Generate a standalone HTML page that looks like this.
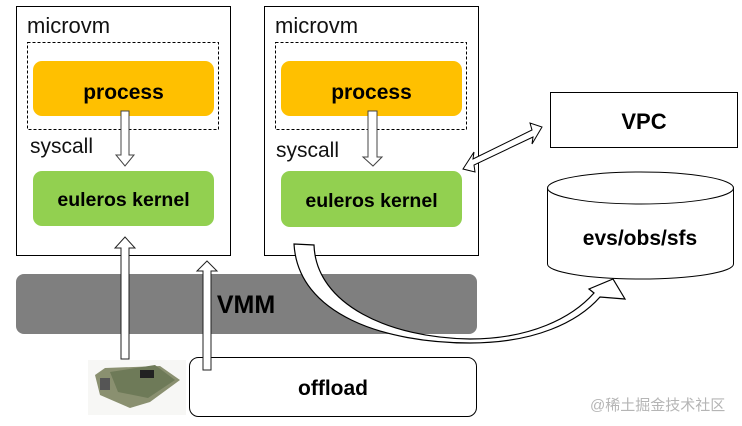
<!DOCTYPE html>
<html><head><meta charset="utf-8"><style>
html,body{margin:0;padding:0;background:#fff;}
svg{display:block;}
text{font-family:"Liberation Sans","Noto Sans CJK SC",sans-serif;}
</style></head><body>
<svg width="742" height="426" viewBox="0 0 742 426" xmlns="http://www.w3.org/2000/svg">
<rect x="16.5" y="6.5" width="214" height="249" fill="#fff" stroke="#000" stroke-width="1"/>
<text x="27" y="33" font-size="22" fill="#111">microvm</text>
<rect x="27.5" y="42.5" width="191" height="87" fill="none" stroke="#000" stroke-dasharray="3,2"/>
<rect x="33" y="61" width="181" height="55" rx="9" fill="#FFC000"/>
<text x="123.5" y="99" font-size="21" font-weight="bold" text-anchor="middle">process</text>
<text x="30" y="153" font-size="21" fill="#111">syscall</text>
<polygon points="121,111 129,111 129,155 134,155 125,166 116,155 121,155" fill="#fff" stroke="#444"/>
<rect x="33" y="171" width="181" height="55" rx="9" fill="#92D050"/>
<text x="123.5" y="206" font-size="19.5" font-weight="bold" text-anchor="middle">euleros kernel</text>

<rect x="264.5" y="6.5" width="214" height="249" fill="#fff" stroke="#000"/>
<text x="275" y="33" font-size="22" fill="#111">microvm</text>
<rect x="275.5" y="42.5" width="191" height="87" fill="none" stroke="#000" stroke-dasharray="3,2"/>
<rect x="281" y="61" width="181" height="55" rx="9" fill="#FFC000"/>
<text x="371.5" y="99" font-size="21" font-weight="bold" text-anchor="middle">process</text>
<text x="276" y="157" font-size="21" fill="#111">syscall</text>
<polygon points="368,111 377,111 377,157 382,157 373,166 363,157 368,157" fill="#fff" stroke="#444"/>
<rect x="281" y="171" width="181" height="56" rx="9" fill="#92D050"/>
<text x="371.5" y="207" font-size="19.5" font-weight="bold" text-anchor="middle">euleros kernel</text>

<rect x="16" y="274" width="461" height="60" rx="8" fill="#7f7f7f"/>
<text x="246" y="313" font-size="25" font-weight="bold" text-anchor="middle">VMM</text>

<rect x="189.5" y="357.5" width="287" height="59" rx="9" fill="#fff" stroke="#000"/>
<text x="333" y="395" font-size="21" font-weight="bold" text-anchor="middle">offload</text>

<g>
<rect x="88" y="360" width="98" height="55" fill="#f7f7f5"/>
<polygon points="95,375 105,368 160,366 180,380 150,402 130,408 100,395" fill="#8a9070"/>
<polygon points="110,372 155,365 175,380 148,398 118,392" fill="#6e7a58"/>
<rect x="140" y="370" width="14" height="8" fill="#222"/>
<rect x="100" y="378" width="10" height="12" fill="#555"/>
</g>

<polygon points="121,359 129,359 129,248 135,248 125,237 115,248 121,248" fill="#fff" stroke="#222"/>
<polygon points="203,370 211,370 211,271 217,271 207,261 197,271 203,271" fill="#fff" stroke="#222"/>

<rect x="550.5" y="92.5" width="187" height="55" fill="#fff" stroke="#000"/>
<text x="644" y="129" font-size="22" font-weight="bold" text-anchor="middle">VPC</text>
<polygon points="463,169 474,152 473,159 532,130 530,123 542,127 532,144 533,137 474,165 475,172" fill="#fff" stroke="#000"/>

<path d="M547.5,188 L547.5,264 A93,15 0 0 0 733.5,264 L733.5,188" fill="#fff" stroke="#000"/>
<ellipse cx="640.5" cy="188" rx="93" ry="16" fill="#fff" stroke="#000"/>
<text x="640" y="245" font-size="21" font-weight="bold" text-anchor="middle">evs/obs/sfs</text>

<path d="M294,244 L314,245 C316,305 390,338 470,339 C530,339 572,318 594,293 L589,289 L613,279 L625,299 L600,297 C578,322 535,343 470,343 C385,343 298,315 294,244 Z" fill="#fff" stroke="#000" stroke-width="1.2"/>

<text x="590" y="410" font-size="15" fill="#b5b5b5">@稀土掘金技术社区</text>
</svg>
</body></html>
